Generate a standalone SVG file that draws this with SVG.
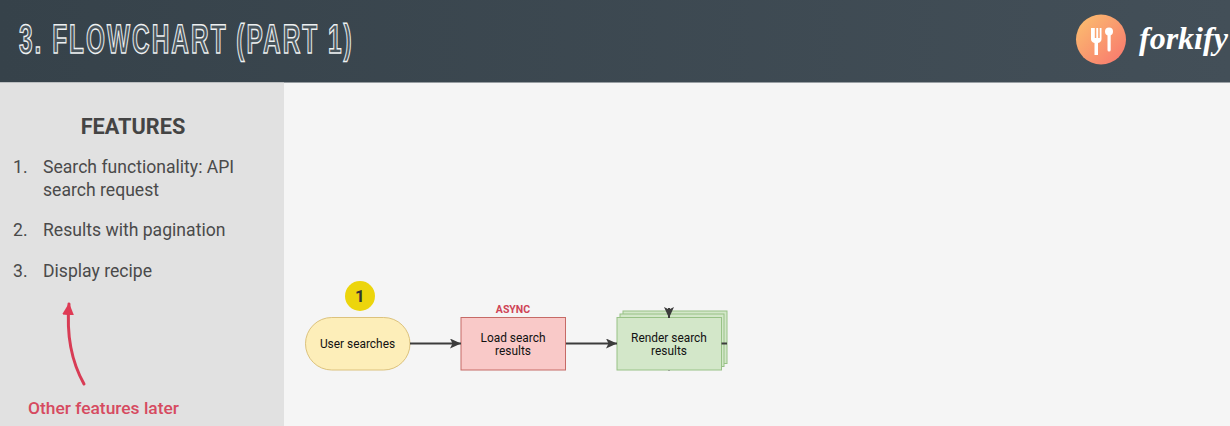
<svg xmlns="http://www.w3.org/2000/svg" width="1230" height="426" viewBox="0 0 1230 426">
<style>
.r{font-family:Roboto,"Liberation Sans",sans-serif}
.side{font-size:17.600px;fill:#4a4a4a}
.n{font-size:11.900px;fill:#111;text-anchor:middle}
.c{fill:none;stroke:#3c3c3c;stroke-width:2}
</style>
<defs>
<linearGradient id="hd" x1="0" x2="1" y1="0" y2="0"><stop offset="0" stop-color="#36424a"/><stop offset="1" stop-color="#434f58"/></linearGradient>
<linearGradient id="lg" x1="0" x2="1" y1="0" y2="1"><stop offset="0" stop-color="#fbc26f"/><stop offset="1" stop-color="#f8746e"/></linearGradient>
<marker id="a" markerUnits="userSpaceOnUse" markerWidth="12" markerHeight="10" refX="11" refY="5" orient="auto"><path d="M0 0L11 5L0 10L2.500 5Z" fill="#3c3c3c"/></marker>
<marker id="ra" markerUnits="userSpaceOnUse" markerWidth="13" markerHeight="13" refX="11" refY="6" orient="auto"><path d="M0 0L12 6L0 12Z" fill="#df3b55"/></marker>
</defs>
<rect width="1230" height="426" fill="#f5f5f5"/>
<rect id="header" width="1230" height="82.500" fill="url(#hd)"/>
<rect id="sidebar" y="82.500" width="284" height="343.500" fill="#e1e1e1"/>
<text transform="translate(19 53) scale(.595 1)" font-family="'Liberation Sans',sans-serif" font-weight="700" font-size="41" fill="#4a565d" stroke="#eef1f2" stroke-width="1.500" letter-spacing="3.400" style="text-rendering:geometricPrecision">3. FLOWCHART (PART 1)</text>
<g id="logo">
<circle cx="1101" cy="39.500" r="25" fill="url(#lg)"/>
<path d="M1091 28v11q0 3 3.500 4v12h3.500V43q3.500-1 3.500-4V28h-1.800v10h-1.500V28h-1.900v10h-1.500V28Z" fill="#fff"/>
<circle cx="1109" cy="31.500" r="4" fill="#fff"/><rect x="1107.500" y="33" width="3.200" height="18.500" rx="1.500" fill="#fff"/>
<text x="1139" y="49" font-family="'Liberation Serif',serif" font-style="italic" font-weight="700" font-size="32" fill="#fff">forkify</text>
</g>
<g id="features" class="r">
<text x="133" y="133.500" font-size="21.700" font-weight="700" fill="#444" text-anchor="middle">FEATURES</text>
<text class="side" x="13" y="173">1.</text><text class="side" x="43" y="173">Search functionality: API</text>
<text class="side" x="43" y="196">search request</text>
<text class="side" x="13" y="236">2.</text><text class="side" x="43" y="236">Results with pagination</text>
<text class="side" x="13" y="277">3.</text><text class="side" x="43" y="277">Display recipe</text>
</g>
<g id="note">
<path d="M84 384Q65 350 69 304" fill="none" stroke="#d83c55" stroke-width="3" stroke-linecap="round" marker-end="url(#ra)"/>
<text class="r" x="28" y="414" font-size="17.400" font-weight="500" fill="#d64a60">Other features later</text>
</g>
<g id="badge"><circle cx="360" cy="296" r="15" fill="#ecd50c"/><text class="r" x="360" y="302" font-size="17" font-weight="700" fill="#333" text-anchor="middle">1</text></g>
<g id="user-searches"><rect x="305.500" y="317.500" width="104.500" height="52.500" rx="26.250" fill="#fdeeb9" stroke="#dcc27c"/><text class="r n" x="357.500" y="348">User searches</text></g>
<g id="load-search"><text class="r" x="513" y="313" font-size="10.500" font-weight="700" fill="#cf4457" text-anchor="middle">ASYNC</text><rect x="461" y="317.500" width="104.500" height="52.500" fill="#f9c9c8" stroke="#c66a66"/><text class="r n" x="513" y="342">Load search</text><text class="r n" x="513" y="355">results</text></g>
<g id="render-search" fill="#d3e7c9" stroke="#98c286"><rect x="623" y="311" width="104" height="52.500"/><rect x="620" y="314" width="104" height="52.500"/><rect x="617" y="317.500" width="104.500" height="52.500"/><text class="r n" stroke="none" x="669" y="342">Render search</text><text class="r n" stroke="none" x="669" y="355">results</text></g>
<g id="connectors">
<path class="c" d="M410 343.500H461" marker-end="url(#a)"/>
<path class="c" d="M566 343.500H617" marker-end="url(#a)"/>
<path class="c" d="M669 308V318" marker-end="url(#a)"/>
<path class="c" d="M721.500 343.500H727"/>
<path d="M669 370V371" stroke="#777" fill="none"/>
</g>
</svg>
